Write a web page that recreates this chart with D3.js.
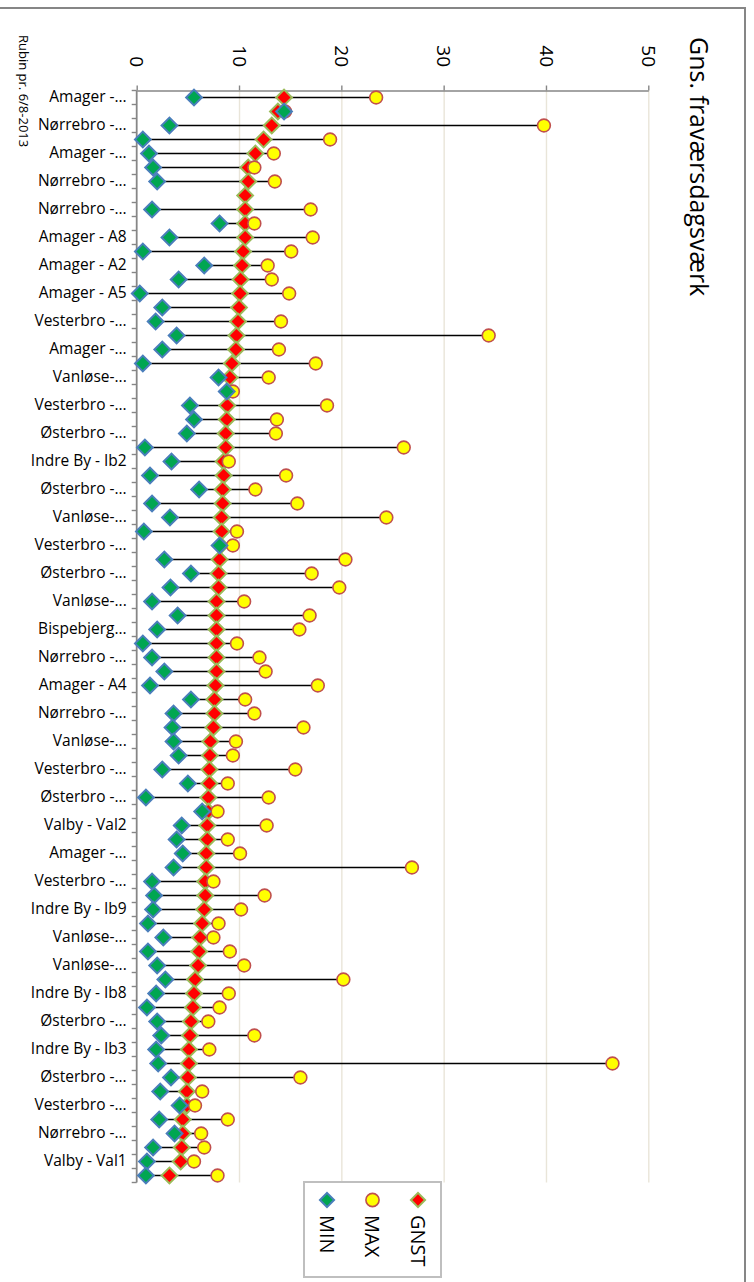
<!DOCTYPE html>
<html><head><meta charset="utf-8">
<script src="https://cdnjs.cloudflare.com/ajax/libs/d3/7.8.5/d3.min.js"></script>
<style>
html,body{margin:0;padding:0;background:#fff;}
svg{display:block;}
text{font-family:"Open Sans",sans-serif;fill:#000;}
</style></head><body>
<svg id="chart" width="754" height="1282"></svg>
<script>
// ---- data ----
const shownLabels = ["Amager -...","Nørrebro -...","Amager -...","Nørrebro -...","Nørrebro -...","Amager - A8","Amager - A2","Amager - A5","Vesterbro -...","Amager -...","Vanløse-...","Vesterbro -...","Østerbro -...","Indre By - Ib2","Østerbro -...","Vanløse-...","Vesterbro -...","Østerbro -...","Vanløse-...","Bispebjerg...","Nørrebro -...","Amager - A4","Nørrebro -...","Vanløse-...","Vesterbro -...","Østerbro -...","Valby - Val2","Amager -...","Vesterbro -...","Indre By - Ib9","Vanløse-...","Vanløse-...","Indre By - Ib8","Østerbro -...","Indre By - Ib3","Østerbro -...","Vesterbro -...","Nørrebro -...","Valby - Val1"];
const minVals = [5.6,14.4,3.2,0.6,1.2,1.6,2.0,null,1.5,8.1,3.2,0.6,6.6,4.1,0.3,2.5,1.85,3.9,2.5,0.6,8.0,8.8,5.2,5.6,4.9,0.8,3.4,1.3,6.1,1.5,3.25,0.7,8.1,2.7,5.3,3.3,1.5,4.0,2.0,0.6,1.5,2.7,1.3,5.3,3.6,3.5,3.6,4.1,2.5,5.0,0.9,6.4,4.4,3.9,4.5,3.6,1.5,1.7,1.6,1.1,2.6,1.1,2.0,2.8,1.9,1.0,2.0,2.4,1.9,2.1,3.35,2.3,4.2,2.2,3.7,1.6,1.0,0.9];
const maxVals = [23.4,14.5,39.8,18.9,13.4,11.5,13.5,null,17.0,11.5,17.2,15.1,12.8,13.2,14.9,null,14.1,34.4,13.9,17.5,12.9,9.4,18.6,13.7,13.6,26.1,9.0,14.6,11.6,15.7,24.4,9.8,9.4,20.4,17.1,19.8,10.5,16.9,15.9,9.8,12.0,12.6,17.7,10.6,11.5,16.3,9.7,9.4,15.5,8.9,12.9,7.9,12.7,8.9,10.1,26.9,7.5,12.5,10.2,8.0,7.5,9.1,10.5,20.2,9.0,8.1,7.0,11.5,7.1,46.5,16.0,6.4,5.7,8.9,6.3,6.6,5.6,7.9];
const gnstVals = [14.4,13.8,13.2,12.4,11.6,10.9,10.9,10.6,10.6,10.6,10.6,10.4,10.3,10.15,10.1,10.0,9.9,9.75,9.7,9.3,9.1,8.9,8.85,8.8,8.7,8.7,8.5,8.5,8.4,8.4,8.3,8.3,8.2,8.1,8.0,8.0,7.8,7.8,7.8,7.8,7.8,7.8,7.7,7.6,7.6,7.5,7.2,7.15,7.1,7.1,7.0,7.0,6.9,6.9,6.8,6.8,6.7,6.7,6.6,6.4,6.2,6.1,6.0,5.7,5.6,5.5,5.3,5.2,5.1,5.1,5.0,4.9,4.9,4.5,4.5,4.4,4.3,3.2];
const xTicks = [0,10,20,30,40,50];
const seriesNames = ["MIN","MAX","GNST"];
const titleText = "Gns. fraværsdagsværk";
const footnoteText = "Rubin pr. 6/8-2013";

// ---- layout ----
const categories = d3.range(minVals.length);
const labelOf = i => (i % 2 === 0 ? shownLabels[i / 2] : "");
const plotTop = 90.5, plotBottom = 1182.5, xLeft = 136.7, xRight = 648.3;
const svg = d3.select("#chart");
const x = d3.scaleLinear().domain([0, 50]).range([xLeft, xRight]);
const y = d3.scaleBand().domain(categories).range([plotTop, plotBottom]).padding(0);
const rows = categories.map(i => ({i, min: minVals[i], max: maxVals[i], gnst: gnstVals[i]}));

const C = {
  minFill: "#00A651", minStroke: "#4A7EBB",
  maxFill: "#FFFF00", maxStroke: "#C0504D",
  gFill: "#FF0000", gStroke: "#9BBB59",
  axis: "#868686", grid: "#E9E5D9"
};

// chart border
svg.append("rect").attr("x", -5).attr("y", 8).attr("width", 750).attr("height", 1300)
  .attr("fill", "#fff").attr("stroke", C.axis).attr("stroke-width", 2);

// gridlines
const grid = svg.append("g").attr("transform", `translate(0,${plotTop})`)
  .call(d3.axisTop(x).tickValues(xTicks.slice(1)).tickSize(-(plotBottom - plotTop)).tickFormat(""));
grid.select(".domain").remove();
grid.selectAll("line").attr("stroke", C.grid).attr("stroke-width", 1.4);

// value axis (top)
const vax = svg.append("g").attr("transform", `translate(0,${plotTop})`)
  .call(d3.axisTop(x).tickValues(xTicks).tickSize(5).tickSizeOuter(0));
vax.select(".domain").attr("stroke", C.axis).attr("stroke-width", 1.6);
vax.selectAll(".tick line").attr("stroke", C.axis).attr("stroke-width", 1.4);
vax.selectAll(".tick text")
  .attr("x", 0).attr("y", 0).attr("dy", "0.36em")
  .attr("text-anchor", "end")
  .attr("transform", "translate(0,-23.5) rotate(90)")
  .style("font-family", '"Open Sans",sans-serif').style("font-size", "19px").attr("fill", "#000");

// category axis (left)
const cax = svg.append("g").attr("transform", `translate(${xLeft},0)`)
  .call(d3.axisLeft(y).tickSize(0).tickPadding(10).tickFormat(labelOf));
cax.select(".domain").remove();
cax.selectAll(".tick text")
  .style("font-family", '"Open Sans",sans-serif').style("font-size", "15.5px").attr("fill", "#000");
const bounds = categories.map(i => y(i)).concat([y(categories[categories.length - 1]) + y.bandwidth()]);
svg.append("g").selectAll("line").data(bounds).join("line")
  .attr("x1", xLeft - 5).attr("x2", xLeft).attr("y1", d => d).attr("y2", d => d)
  .attr("stroke", C.axis).attr("stroke-width", 1.4);
svg.append("line").attr("x1", xLeft).attr("x2", xLeft).attr("y1", plotTop).attr("y2", plotBottom)
  .attr("stroke", C.axis).attr("stroke-width", 1.8);

// high-low lines
const cy = i => y(i) + y.bandwidth() / 2;
svg.append("g").selectAll("line")
  .data(rows.filter(r => [r.min, r.max, r.gnst].filter(v => v != null).length > 1))
  .join("line")
  .attr("x1", r => x(d3.min([r.min, r.max, r.gnst].filter(v => v != null))))
  .attr("x2", r => x(d3.max([r.min, r.max, r.gnst].filter(v => v != null))))
  .attr("y1", r => cy(r.i)).attr("y2", r => cy(r.i))
  .attr("stroke", "#000").attr("stroke-width", 1.6);

const diamond = (size) => d3.symbol().type(d3.symbolSquare).size(size)();

// GNST
svg.append("g").selectAll("path").data(rows.filter(r => r.gnst != null)).join("path")
  .attr("d", diamond(124))
  .attr("transform", r => `translate(${x(r.gnst)},${cy(r.i)}) rotate(45)`)
  .attr("fill", C.gFill).attr("stroke", C.gStroke).attr("stroke-width", 2);
// MAX
svg.append("g").selectAll("circle").data(rows.filter(r => r.max != null)).join("circle")
  .attr("cx", r => x(r.max)).attr("cy", r => cy(r.i)).attr("r", 6.4)
  .attr("fill", C.maxFill).attr("stroke", C.maxStroke).attr("stroke-width", 1.6);
// MIN
svg.append("g").selectAll("path").data(rows.filter(r => r.min != null)).join("path")
  .attr("d", diamond(124))
  .attr("transform", r => `translate(${x(r.min)},${cy(r.i)}) rotate(45)`)
  .attr("fill", C.minFill).attr("stroke", C.minStroke).attr("stroke-width", 2);

// title
svg.append("text").attr("transform", "translate(690,37) rotate(90)")
  .style("font-size", "25px").text(titleText);

// footnote
svg.append("text").attr("transform", "translate(19,35) rotate(90)")
  .style("font-size", "13px").text(footnoteText);

// legend
const lg = svg.append("g");
lg.append("rect").attr("x", 304).attr("y", 1182).attr("width", 137).attr("height", 95)
  .attr("fill", "#fff").attr("stroke", "#BFBFBF").attr("stroke-width", 2);
const legX = d3.scalePoint().domain(seriesNames).range([327, 418]);
seriesNames.forEach(name => {
  const lx = legX(name);
  if (name === "MAX") {
    lg.append("circle").attr("cx", lx).attr("cy", 1200).attr("r", 6.6)
      .attr("fill", C.maxFill).attr("stroke", C.maxStroke).attr("stroke-width", 1.6);
  } else {
    lg.append("path").attr("d", diamond(100))
      .attr("transform", `translate(${lx},1200) rotate(45)`)
      .attr("fill", name === "MIN" ? C.minFill : C.gFill)
      .attr("stroke", name === "MIN" ? C.minStroke : C.gStroke).attr("stroke-width", 2);
  }
  lg.append("text").attr("transform", `translate(${lx},1215) rotate(90)`)
    .attr("dy", "0.36em").style("font-size", "20px").text(name);
});
</script>
</body></html>
